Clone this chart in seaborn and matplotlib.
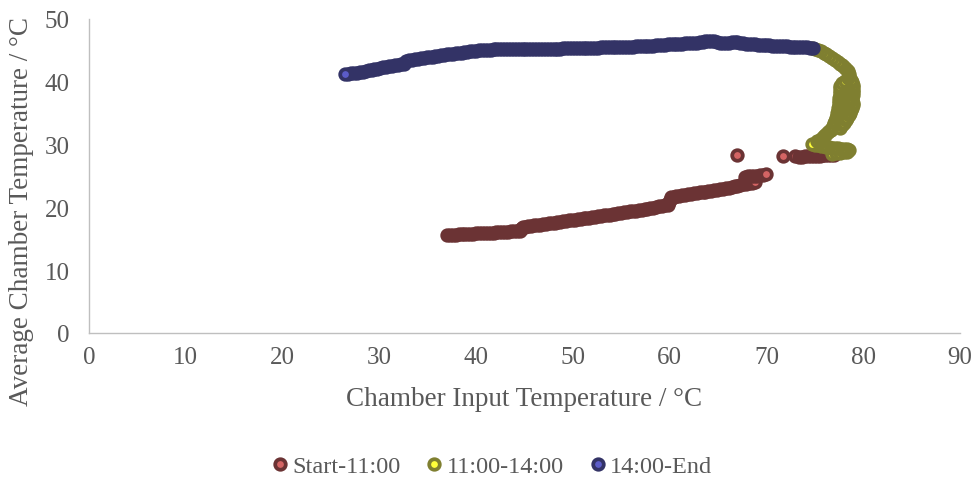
import matplotlib
matplotlib.use("Agg")
import matplotlib.pyplot as plt
from matplotlib.lines import Line2D
import seaborn as sns
import pandas as pd

# ---------------- data ----------------
series_names = ["Start-11:00", "11:00-14:00", "14:00-End"]

red_x = [37.0, 37.3, 37.6, 37.9, 38.2, 38.5, 38.8, 39.1, 39.4, 39.7, 40.0, 40.3, 40.6, 40.9,
         41.2, 41.5, 41.8, 42.1, 42.4, 42.7, 43.0, 43.3, 43.6, 43.9, 44.2, 44.5, 44.6, 44.7,
         44.8, 45.1, 45.4, 45.7, 46.0, 46.3, 46.6, 46.9, 47.2, 47.5, 47.8, 48.1, 48.4, 48.7,
         49.0, 49.3, 49.6, 49.9, 50.2, 50.5, 50.8, 51.1, 51.4, 51.7, 52.0, 52.3, 52.6, 52.9,
         53.2, 53.5, 53.8, 54.1, 54.4, 54.7, 55.0, 55.3, 55.6, 55.9, 56.2, 56.5, 56.8, 57.1,
         57.4, 57.7, 58.0, 58.3, 58.6, 58.9, 59.2, 59.5, 59.8, 59.9, 60.0,
         60.1, 60.4, 60.7, 61.0, 61.3, 61.6, 61.9, 62.2, 62.5, 62.8, 63.1, 63.4, 63.7, 64.0,
         64.3, 64.6, 64.9, 65.2, 65.5, 65.8, 66.1, 66.4, 66.7, 67.0, 67.3,
         67.6, 67.9, 68.2, 68.5, 68.8,
         67.8, 68.1, 68.4, 68.7, 69.0, 69.3, 69.6, 70.0,
         67.0, 71.7, 72.9,
         73.4, 73.7, 74.0, 74.3, 74.6, 74.9, 75.2, 75.5, 75.8, 76.1, 76.4, 76.7, 77.0]
red_y = [15.60, 15.62, 15.65, 15.67, 15.70, 15.72, 15.74, 15.77, 15.80, 15.82, 15.85, 15.87, 15.90, 15.92,
         15.95, 15.98, 16.00, 16.03, 16.06, 16.10, 16.13, 16.16, 16.20, 16.23, 16.26, 16.30, 16.50, 16.70,
         16.90, 16.95, 17.00, 17.05, 17.12, 17.18, 17.25, 17.32, 17.38, 17.45, 17.52, 17.58, 17.65, 17.72,
         17.78, 17.85, 17.92, 17.98, 18.05, 18.12, 18.18, 18.25, 18.32, 18.38, 18.45, 18.52, 18.58, 18.65,
         18.72, 18.78, 18.85, 18.92, 18.98, 19.05, 19.12, 19.20, 19.28, 19.35, 19.42, 19.50, 19.58, 19.65,
         19.72, 19.80, 19.88, 19.95, 20.05, 20.15, 20.25, 20.35, 20.45, 20.85, 21.25,
         21.60, 21.70, 21.78, 21.85, 21.92, 22.00, 22.08, 22.15, 22.22, 22.30, 22.38, 22.45, 22.52, 22.60,
         22.68, 22.75, 22.82, 22.90, 22.98, 23.05, 23.15, 23.25, 23.35, 23.45, 23.55,
         23.65, 23.75, 23.85, 23.95, 24.10,
         24.90, 24.95, 25.00, 25.00, 25.05, 25.10, 25.20, 25.30,
         28.30, 28.20, 28.20,
         28.10, 28.10, 28.15, 28.20, 28.20, 28.20, 28.25, 28.25, 28.30, 28.30, 28.30, 28.30, 28.35]

green_x = [76.8, 77.2, 77.6, 78.0, 78.3, 78.5, 78.3, 78.0, 77.7, 77.4, 77.1, 76.8, 76.5, 76.2,
           75.9, 75.6, 75.3, 75.0, 74.7,
           75.2, 75.5, 75.7, 75.9, 76.1, 76.3, 76.5, 76.7,
           76.8, 77.6, 76.9, 77.8, 77.0, 78.0, 77.1, 78.2, 77.2, 78.3, 77.3, 78.5, 77.3, 78.6,
           77.4, 78.7, 77.4, 78.8, 77.5, 78.9, 77.5, 78.9, 77.5, 78.8, 77.5, 78.8, 77.6, 78.9,
           77.6, 78.9, 77.6, 78.9, 77.6, 78.9, 77.6, 78.9, 77.8, 78.8, 78.1, 78.7,
           78.4, 78.55, 78.5, 78.4, 78.25, 78.05, 77.85, 77.6, 77.35, 77.1, 76.8, 76.5, 76.2, 75.9,
           75.6, 75.3, 75.0, 74.7]
green_y = [28.5, 28.6, 28.7, 28.8, 28.9, 29.1, 29.25, 29.3, 29.35, 29.4, 29.45, 29.5, 29.55, 29.6,
           29.7, 29.8, 29.9, 30.0, 30.1,
           30.5, 30.8, 31.1, 31.35, 31.6, 31.85, 32.1, 32.35,
           32.6, 32.7, 33.0, 33.1, 33.4, 33.5, 33.8, 33.9, 34.2, 34.3, 34.6, 34.7, 35.0, 35.1,
           35.4, 35.5, 35.8, 35.9, 36.2, 36.3, 36.6, 36.7, 37.0, 37.1, 37.4, 37.5, 37.8, 37.9,
           38.2, 38.3, 38.6, 38.7, 39.0, 39.1, 39.4, 39.5, 39.8, 39.9, 40.2, 40.3,
           40.6, 40.95, 41.3, 41.65, 42.0, 42.3, 42.6, 42.9, 43.2, 43.5, 43.8, 44.1, 44.4, 44.65,
           44.9, 45.1, 45.25, 45.35]

blue_x_asc = [26.5, 26.8, 27.1, 27.4, 27.7, 28.0, 28.3, 28.6, 28.9, 29.2, 29.5, 29.8, 30.1, 30.4,
              30.7, 31.0, 31.3, 31.6, 31.9, 32.2, 32.5, 32.8, 33.1, 33.4, 33.7, 34.0, 34.3, 34.6,
              34.9, 35.2, 35.5, 35.8, 36.1, 36.4, 36.7, 37.0, 37.3, 37.6, 37.9, 38.2, 38.5, 38.8,
              39.1, 39.4, 39.7, 40.0, 40.3, 40.6, 40.9, 41.2, 41.5, 41.8, 42.1, 42.4, 42.7, 43.0,
              43.3, 43.6, 43.9, 44.2, 44.5, 44.8, 45.1, 45.4, 45.7, 46.0, 46.3, 46.6, 46.9, 47.2,
              47.5, 47.8, 48.1, 48.4, 48.7, 49.0, 49.3, 49.6, 49.9, 50.2, 50.5, 50.8, 51.1, 51.4,
              51.7, 52.0, 52.3, 52.6, 52.9, 53.2, 53.5, 53.8, 54.1, 54.4, 54.7, 55.0, 55.3, 55.6,
              55.9, 56.2, 56.5, 56.8, 57.1, 57.4, 57.7, 58.0, 58.3, 58.6, 58.9, 59.2, 59.5, 59.8,
              60.1, 60.4, 60.7, 61.0, 61.3, 61.6, 61.9, 62.2, 62.5, 62.8, 63.1, 63.4, 63.7, 64.0,
              64.3, 64.6, 64.9, 65.2, 65.5, 65.8, 66.1, 66.4, 66.7, 67.0, 67.3, 67.6, 67.9, 68.2,
              68.5, 68.8, 69.1, 69.4, 69.7, 70.0, 70.3, 70.6, 70.9, 71.2, 71.5, 71.8, 72.1, 72.4,
              72.7, 73.0, 73.3, 73.6, 73.9, 74.2, 74.5, 74.8]
blue_y_asc = [41.20, 41.27, 41.33, 41.40, 41.47, 41.53, 41.60, 41.70, 41.80, 41.90, 42.00, 42.10, 42.20, 42.28,
              42.36, 42.45, 42.55, 42.63, 42.72, 42.80, 42.88, 43.30, 43.40, 43.48, 43.56, 43.65, 43.72, 43.80,
              43.88, 43.95, 44.02, 44.10, 44.17, 44.24, 44.30, 44.36, 44.42, 44.48, 44.54, 44.60, 44.66, 44.72,
              44.78, 44.84, 44.90, 44.95, 45.00, 45.05, 45.10, 45.12, 45.14, 45.15, 45.15, 45.16, 45.16, 45.17,
              45.17, 45.18, 45.18, 45.19, 45.19, 45.20, 45.20, 45.21, 45.21, 45.22, 45.22, 45.23, 45.24, 45.25,
              45.26, 45.27, 45.28, 45.29, 45.30, 45.31, 45.32, 45.33, 45.34, 45.36, 45.38, 45.40, 45.41, 45.42,
              45.43, 45.44, 45.45, 45.46, 45.47, 45.48, 45.49, 45.50, 45.51, 45.52, 45.53, 45.54, 45.56, 45.58,
              45.60, 45.62, 45.64, 45.66, 45.68, 45.70, 45.72, 45.75, 45.78, 45.82, 45.85, 45.88, 45.92, 45.95,
              45.98, 46.00, 46.02, 46.05, 46.08, 46.10, 46.14, 46.18, 46.20, 46.25, 46.30, 46.38, 46.45, 46.52,
              46.50, 46.42, 46.30, 46.20, 46.15, 46.18, 46.25, 46.32, 46.38, 46.35, 46.25, 46.15, 46.08, 46.02,
              45.98, 45.95, 45.92, 45.90, 45.88, 45.85, 45.82, 45.78, 45.75, 45.72, 45.70, 45.68, 45.65, 45.62,
              45.60, 45.58, 45.55, 45.52, 45.50, 45.47, 45.44, 45.40]
# chronological order of the last period runs from right to left
blue_x = blue_x_asc[::-1]
blue_y = blue_y_asc[::-1]

x_ticks = [0, 10, 20, 30, 40, 50, 60, 70, 80, 90]
y_ticks = [0, 10, 20, 30, 40, 50]

x_label = "Chamber Input Temperature / °C"
y_label = "Average Chamber Temperature / °C"

# ---------------- styling ----------------
fill_colors = ["#D46464", "#FFFF3A", "#5C5CC8"]
edge_colors = ["#6B3334", "#7F7F30", "#333366"]
text_color = "#595959"
spine_color = "#BFBFBF"

sns.set_theme(style="white")
plt.rcParams["font.family"] = ["Liberation Serif", "DejaVu Serif"]

df = pd.concat([
    pd.DataFrame({"x": red_x, "y": red_y, "period": series_names[0]}),
    pd.DataFrame({"x": green_x, "y": green_y, "period": series_names[1]}),
    pd.DataFrame({"x": blue_x, "y": blue_y, "period": series_names[2]}),
], ignore_index=True)

fig = plt.figure(figsize=(9.74, 4.81), dpi=100)
ax = fig.add_axes([89 / 974, 1 - 334 / 481, (960 - 89) / 974, (334 - 20) / 481])

msize = 58
mlw = 2.7
for name, fc, ec in zip(series_names, fill_colors, edge_colors):
    sub = df[df["period"] == name]
    sns.scatterplot(data=sub, x="x", y="y", ax=ax, s=msize, color=fc,
                    edgecolor=ec, linewidth=mlw, legend=False, zorder=3)

ax.set_xlim(0, 90)
ax.set_ylim(0, 50)
ax.set_xticks(x_ticks)
ax.set_yticks(y_ticks)
ax.tick_params(axis="both", length=0, labelsize=18, colors=text_color)
ax.tick_params(axis="y", pad=14)
ax.tick_params(axis="x", pad=9)
for lab in ax.get_xticklabels() + ax.get_yticklabels():
    lab.set_color(text_color)

for side in ["top", "right"]:
    ax.spines[side].set_visible(False)
for side in ["left", "bottom"]:
    ax.spines[side].set_color(spine_color)
    ax.spines[side].set_linewidth(1.0)

ax.set_xlabel(x_label, fontsize=19.5, color=text_color, va="center")
ax.xaxis.set_label_coords(0.5, (334 - 400) / 314)
ax.set_ylabel(y_label, fontsize=19.5, color=text_color, va="center")
ax.yaxis.set_label_coords((22 - 89) / 871, (334 - 212) / 314)

handles = [Line2D([0], [0], marker="o", linestyle="none", markersize=7.6,
                  markerfacecolor=fc, markeredgecolor=ec, markeredgewidth=mlw, label=n)
           for n, fc, ec in zip(series_names, fill_colors, edge_colors)]
leg = fig.legend(handles=handles, loc="center", bbox_to_anchor=(491 / 974, 1 - 467 / 481),
                 ncol=3, frameon=False, fontsize=17.5, handletextpad=0.1,
                 columnspacing=1.0, handlelength=0.8)
for t in leg.get_texts():
    t.set_color(text_color)

fig.savefig("out.png", dpi=100)
